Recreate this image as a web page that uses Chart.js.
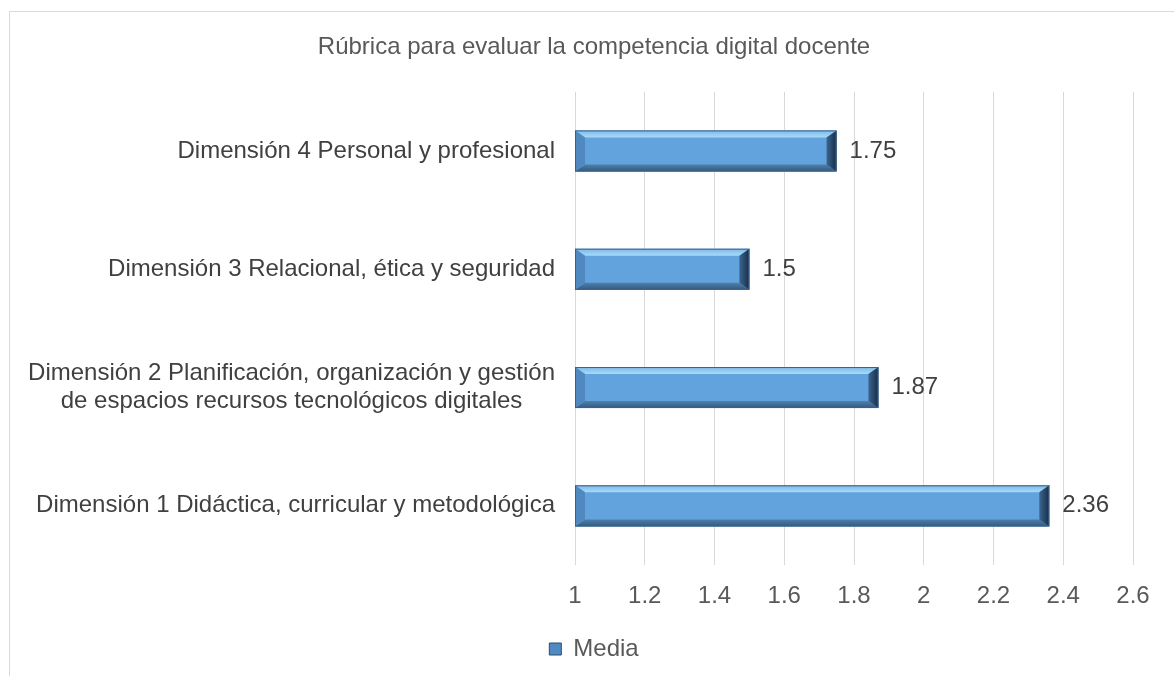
<!DOCTYPE html>
<html lang="es">
<head>
<meta charset="UTF-8">
<title>Rúbrica para evaluar la competencia digital docente</title>
<script src="https://cdn.jsdelivr.net/npm/chart.js"></script>
<style>
    body {
        margin: 0;
        background: #ffffff;
        overflow: hidden;
    }
    .marco {
        position: absolute;
        left: 9px;
        top: 11px;
        width: 1300px;
        height: 800px;
        border-top: 1px solid #d9d9d9;
        border-left: 1px solid #d9d9d9;
    }
    canvas {
        position: absolute;
        left: 0;
        top: 0;
    }
</style>
</head>
<body>
<div class="marco"></div>
<canvas id="grafico" width="1174" height="676"></canvas>
<script>
    // Datos del gráfico (de abajo hacia arriba, como en Excel)
    const categorias = [
        ['Dimensión 1 Didáctica, curricular y metodológica'],
        ['Dimensión 2 Planificación, organización y gestión', 'de espacios recursos tecnológicos digitales'],
        ['Dimensión 3 Relacional, ética y seguridad'],
        ['Dimensión 4 Personal y profesional']
    ];
    const media = [2.36, 1.87, 1.5, 1.75];
    const ejeMin = 1;
    const ejeMax = 2.6;
    const paso = 0.2;

    const fuente = "'Liberation Sans', Arial, sans-serif";

    // relieve de las barras + etiquetas de valor + etiquetas de categoría
    const relieve = {
        id: 'relieve',
        afterDatasetsDraw(chart) {
            const ctx = chart.ctx;
            const area = chart.chartArea;
            const meta = chart.getDatasetMeta(0);
            meta.data.forEach((bar, i) => {
                const p = bar.getProps(['x', 'y', 'base', 'height'], true);
                const l = Math.max(Math.min(p.base, p.x), area.left);
                const r = Math.max(p.base, p.x);
                const t = p.y - p.height / 2, b = p.y + p.height / 2;
                const bx = 10, by = 7;
                ctx.save();
                // arriba (claro)
                let g = ctx.createLinearGradient(0, t, 0, t + by);
                g.addColorStop(0, '#7fb8e6');
                g.addColorStop(1, '#a6dbf8');
                ctx.fillStyle = g;
                ctx.beginPath();
                ctx.moveTo(l, t); ctx.lineTo(r, t); ctx.lineTo(r - bx, t + by); ctx.lineTo(l + bx, t + by);
                ctx.closePath(); ctx.fill();
                // abajo (oscuro)
                g = ctx.createLinearGradient(0, b - by, 0, b);
                g.addColorStop(0, '#4f80ad');
                g.addColorStop(1, '#34597d');
                ctx.fillStyle = g;
                ctx.beginPath();
                ctx.moveTo(l, b); ctx.lineTo(r, b); ctx.lineTo(r - bx, b - by); ctx.lineTo(l + bx, b - by);
                ctx.closePath(); ctx.fill();
                // izquierda
                ctx.fillStyle = '#5089bf';
                ctx.beginPath();
                ctx.moveTo(l, t); ctx.lineTo(l + bx, t + by); ctx.lineTo(l + bx, b - by); ctx.lineTo(l, b);
                ctx.closePath(); ctx.fill();
                // derecha (sombra)
                g = ctx.createLinearGradient(r - bx, 0, r, 0);
                g.addColorStop(0, '#3a6690');
                g.addColorStop(1, '#172d45');
                ctx.fillStyle = g;
                ctx.beginPath();
                ctx.moveTo(r, t); ctx.lineTo(r - bx, t + by); ctx.lineTo(r - bx, b - by); ctx.lineTo(r, b);
                ctx.closePath(); ctx.fill();
                ctx.strokeStyle = '#3a6288';
                ctx.lineWidth = 1;
                ctx.strokeRect(l + 0.5, t + 0.5, r - l - 1, b - t - 1);

                // valor
                ctx.fillStyle = '#404040';
                ctx.font = '24px ' + fuente;
                ctx.textAlign = 'left';
                ctx.textBaseline = 'middle';
                ctx.fillText(String(media[i]), r + 13, p.y);
                ctx.restore();
            });

            // etiquetas de categoría: bloque alineado a la derecha, líneas centradas
            const ey = chart.scales.y;
            ctx.save();
            ctx.font = '24px ' + fuente;
            ctx.fillStyle = '#404040';
            ctx.textAlign = 'center';
            ctx.textBaseline = 'middle';
            const derecha = 555;
            const alto = 28;
            categorias.forEach((lineas, i) => {
                const yc = ey.getPixelForTick(i);
                const w = Math.max(...lineas.map(s => ctx.measureText(s).width));
                const xc = derecha - w / 2;
                lineas.forEach((s, k) => {
                    ctx.fillText(s, xc, yc + (k - (lineas.length - 1) / 2) * alto);
                });
            });
            ctx.restore();
        }
    };

    const ctx = document.getElementById('grafico').getContext('2d');
    const grafico = new Chart(ctx, {
        type: 'bar',
        data: {
            labels: categorias,
            datasets: [{
                label: 'Media',
                data: media,
                backgroundColor: '#62a3dd',
                borderWidth: 0,
                categoryPercentage: 1,
                barPercentage: 0.347
            }]
        },
        options: {
            indexAxis: 'y',
            responsive: false,
            animation: false,
            layout: { padding: { left: 14, right: 0, top: 0, bottom: 5 } },
            plugins: {
                title: {
                    display: true,
                    text: 'Rúbrica para evaluar la competencia digital docente',
                    color: '#595959',
                    font: { family: fuente, size: 24, weight: 'normal' },
                    padding: { top: 33, bottom: 30 }
                },
                legend: {
                    display: true,
                    position: 'bottom',
                    labels: {
                        color: '#595959',
                        font: { family: fuente, size: 24 },
                        boxWidth: 12,
                        boxHeight: 12,
                        padding: 10,
                        generateLabels: () => [{
                            text: 'Media',
                            fillStyle: '#4f8ac0',
                            strokeStyle: '#2c4d6e',
                            lineWidth: 1,
                            fontColor: '#595959',
                            datasetIndex: 0
                        }]
                    }
                },
                tooltip: { enabled: false }
            },
            scales: {
                x: {
                    min: ejeMin,
                    max: ejeMax,
                    ticks: {
                        stepSize: paso,
                        color: '#595959',
                        font: { family: fuente, size: 24 },
                        padding: 17,
                        callback: v => String(Math.round(v * 10) / 10)
                    },
                    grid: { color: '#d9d9d9', lineWidth: 1, drawTicks: false },
                    border: { display: false },
                    afterFit: s => { s.height = 62; }
                },
                y: {
                    reverse: true,
                    ticks: { display: false },
                    grid: { display: false },
                    border: { display: false },
                    afterFit: s => { s.width = 561; }
                },
                margen: {
                    type: 'linear',
                    position: 'right',
                    ticks: { display: false },
                    grid: { display: false },
                    border: { display: false },
                    afterFit: s => { s.width = 41; }
                }
            }
        },
        plugins: [relieve]
    });
</script>
</body>
</html>
